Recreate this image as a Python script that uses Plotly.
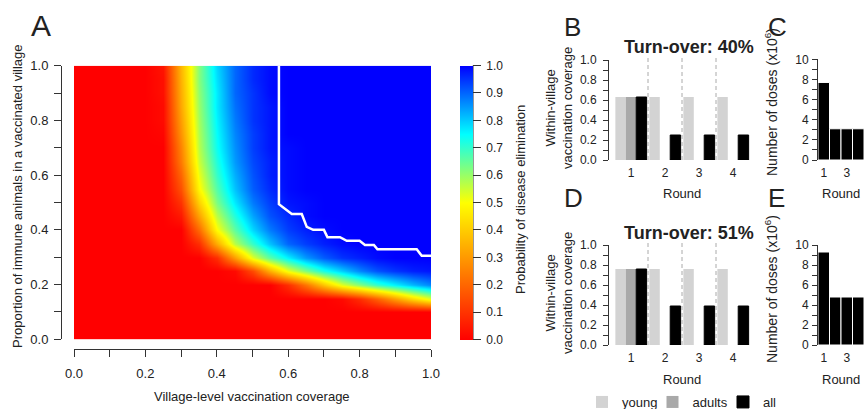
import plotly.graph_objects as go

FONT = "Liberation Sans, Arial, Helvetica, sans-serif"
INK = "#222222"
AX = "#333333"
W, H = 864, 409

# ---------------- Panel A data ----------------
coverage = [0.0, 0.05, 0.1, 0.15, 0.2, 0.25, 0.3, 0.35, 0.4, 0.45, 0.5,
            0.55, 0.6, 0.65, 0.7, 0.75, 0.8, 0.85, 0.9, 0.95, 1.0]
immune = [0.0, 0.05, 0.1, 0.15, 0.2, 0.25, 0.3, 0.35, 0.4, 0.45, 0.5,
          0.55, 0.6, 0.65, 0.7, 0.75, 0.8, 0.85, 0.9, 0.95, 1.0]
# rows = immune (bottom to top), columns = coverage (left to right)
p_elim = [
    [0, 0, 0, 0, 0, 0, 0, 0, 0, 0, 0, 0, 0, 0, 0, 0, 0, 0, 0, 0, 0],
    [0, 0, 0, 0, 0, 0, 0, 0, 0, 0, 0, 0, 0, 0, 0, 0, 0, 0, 0, 0, 0],
    [0, 0, 0, 0, 0, 0, 0, 0, 0, 0, 0, 0, 0, 0, 0, 0, 0, 0, 0, 0, 0],
    [0, 0, 0, 0, 0, 0, 0, 0, 0, 0, 0, 0, 0, 0, 0, 0.02, 0.09, 0.19, 0.31, 0.43, 0.53],
    [0, 0, 0, 0, 0, 0, 0, 0, 0, 0, 0, 0, 0.09, 0.23, 0.39, 0.53, 0.62, 0.70, 0.76, 0.82, 0.87],
    [0, 0, 0, 0, 0, 0, 0, 0, 0, 0.02, 0.15, 0.35, 0.52, 0.63, 0.73, 0.80, 0.87, 0.92, 0.95, 0.97, 0.98],
    [0, 0, 0, 0, 0, 0, 0, 0, 0.09, 0.31, 0.53, 0.66, 0.76, 0.85, 0.91, 0.95, 0.97, 0.99, 1, 1, 1],
    [0, 0, 0, 0, 0, 0, 0, 0.09, 0.34, 0.57, 0.70, 0.81, 0.90, 0.94, 0.97, 0.99, 1, 1, 1, 1, 1],
    [0, 0, 0, 0, 0, 0, 0, 0.21, 0.50, 0.66, 0.79, 0.88, 0.94, 0.97, 0.99, 1, 1, 1, 1, 1, 1],
    [0, 0, 0, 0, 0, 0, 0.05, 0.32, 0.57, 0.72, 0.84, 0.92, 0.96, 0.99, 1, 1, 1, 1, 1, 1, 1],
    [0, 0, 0, 0, 0, 0, 0.10, 0.41, 0.63, 0.77, 0.88, 0.94, 0.98, 0.99, 1, 1, 1, 1, 1, 1, 1],
    [0, 0, 0, 0, 0, 0, 0.16, 0.49, 0.67, 0.81, 0.91, 0.96, 0.99, 1, 1, 1, 1, 1, 1, 1, 1],
    [0, 0, 0, 0, 0, 0, 0.20, 0.52, 0.70, 0.83, 0.92, 0.97, 0.99, 1, 1, 1, 1, 1, 1, 1, 1],
    [0, 0, 0, 0, 0, 0, 0.24, 0.55, 0.72, 0.85, 0.93, 0.97, 0.99, 1, 1, 1, 1, 1, 1, 1, 1],
    [0, 0, 0, 0, 0, 0, 0.26, 0.57, 0.74, 0.86, 0.94, 0.98, 0.99, 1, 1, 1, 1, 1, 1, 1, 1],
    [0, 0, 0, 0, 0, 0.01, 0.29, 0.58, 0.75, 0.87, 0.94, 0.98, 1, 1, 1, 1, 1, 1, 1, 1, 1],
    [0, 0, 0, 0, 0, 0.02, 0.31, 0.59, 0.76, 0.88, 0.95, 0.98, 1, 1, 1, 1, 1, 1, 1, 1, 1],
    [0, 0, 0, 0, 0, 0.02, 0.33, 0.60, 0.77, 0.89, 0.95, 0.98, 1, 1, 1, 1, 1, 1, 1, 1, 1],
    [0, 0, 0, 0, 0, 0.03, 0.34, 0.61, 0.77, 0.90, 0.95, 0.99, 1, 1, 1, 1, 1, 1, 1, 1, 1],
    [0, 0, 0, 0, 0, 0.03, 0.35, 0.62, 0.78, 0.90, 0.96, 0.99, 1, 1, 1, 1, 1, 1, 1, 1, 1],
    [0, 0, 0, 0, 0, 0.04, 0.36, 0.62, 0.79, 0.90, 0.96, 0.99, 1, 1, 1, 1, 1, 1, 1, 1, 1],
]
boundary_cov = [0.574, 0.574, 0.61, 0.638, 0.652, 0.67, 0.70, 0.71, 0.745,
                0.764, 0.80, 0.815, 0.84, 0.85, 0.96, 0.974, 1.0]
boundary_imm = [1.0, 0.494, 0.458, 0.458, 0.411, 0.40, 0.40, 0.373, 0.373,
                0.36, 0.36, 0.345, 0.345, 0.329, 0.329, 0.305, 0.305]
unit_ticks = [0.0, 0.1, 0.2, 0.3, 0.4, 0.5, 0.6, 0.7, 0.8, 0.9, 1.0]
unit_labels = ["0.0", "", "0.2", "", "0.4", "", "0.6", "", "0.8", "", "1.0"]
cbar_labels = ["0.0", "0.1", "0.2", "0.3", "0.4", "0.5", "0.6", "0.7", "0.8", "0.9", "1.0"]

# ---------------- Panels B-E data ----------------
rounds = [1, 2, 3, 4]
round_labels = ["1", "2", "3", "4"]
b_young = [0.63, 0.63, 0.63, 0.63]
b_adults = [0.63, 0.0, 0.0, 0.0]
b_all = [0.63, 0.25, 0.25, 0.25]
d_young = [0.76, 0.76, 0.76, 0.76]
d_adults = [0.76, 0.0, 0.0, 0.0]
d_all = [0.76, 0.39, 0.39, 0.39]
c_doses = [7.7, 3.1, 3.1, 3.1]
e_doses = [9.3, 4.8, 4.8, 4.8]
dose_ticks = [0, 1, 2, 3, 4, 5, 6, 7, 8, 9, 10]
dose_labels = ["0", "", "2", "", "4", "", "6", "", "8", "", "10"]
dose_round_ticks = [1, 3]
dose_round_labels = ["1", "3"]
series_names = ["young", "adults", "all"]
series_colors = ["#D3D3D3", "#A9A9A9", "#000000"]
turnover_B = "Turn-over: 40%"
turnover_D = "Turn-over: 51%"


def px(x):
    return x / W


def py(y):
    return 1 - y / H


fig = go.Figure()

colorscale = [[0.0, "#FF0000"], [0.5, "#FFFF00"], [0.75, "#00FFFF"], [1.0, "#0000FF"]]
fig.add_trace(go.Heatmap(
    x=coverage, y=immune, z=p_elim, zmin=0, zmax=1, zsmooth="best",
    colorscale=colorscale, hoverinfo="skip",
    colorbar=dict(thickness=13, thicknessmode="pixels", len=273.6, lenmode="pixels",
                  x=px(460), xanchor="left", xpad=0, y=py(202.5), yanchor="middle", ypad=0,
                  outlinewidth=0, tickvals=unit_ticks,
                  ticktext=["\u00a0" + t for t in cbar_labels],
                  ticks="outside", ticklen=8, tickcolor=AX, tickwidth=1,
                  tickfont=dict(family=FONT, size=12, color=INK)),
    xaxis="x", yaxis="y"))
fig.add_trace(go.Scatter(x=boundary_cov, y=boundary_imm, mode="lines",
                         line=dict(color="white", width=2.5), hoverinfo="skip",
                         showlegend=False, xaxis="x", yaxis="y"))

# bar panels B and D
for (young, adults, allv, xa, ya, show) in [(b_young, b_adults, b_all, "x2", "y2", True),
                                            (d_young, d_adults, d_all, "x3", "y3", False)]:
    for name, vals, col in zip(series_names, [young, adults, allv], series_colors):
        fig.add_trace(go.Bar(
            x=rounds, y=vals, name=name, legendgroup=name, showlegend=show,
            marker=dict(color=col, line=dict(color="#000000" if name == "all" else col,
                                             width=1 if name == "all" else 0)),
            xaxis=xa, yaxis=ya, hoverinfo="skip"))

# dose panels C and E
for vals, xa, ya in [(c_doses, "x4", "y4"), (e_doses, "x5", "y5")]:
    fig.add_trace(go.Bar(x=rounds, y=vals, width=1.0, showlegend=False,
                         marker=dict(color="#000000", line=dict(color="white", width=1)),
                         xaxis=xa, yaxis=ya, hoverinfo="skip"))

tickfont13 = dict(family=FONT, size=13, color=INK)
tickfont12 = dict(family=FONT, size=12, color=INK)

layout = dict(
    width=W, height=H,
    margin=dict(l=0, r=0, t=0, b=0, autoexpand=False),
    paper_bgcolor="white", plot_bgcolor="white",
    barmode="group", bargap=0.08, bargroupgap=0,
    font=dict(family=FONT, color=INK),
    showlegend=True,
    legend=dict(orientation="h", x=px(582), xanchor="left", y=py(402), yanchor="middle",
                font=dict(family=FONT, size=13, color=INK), entrywidth=25.5,
                entrywidthmode="pixels", itemwidth=30, bgcolor="rgba(0,0,0,0)",
                tracegroupgap=0),
    xaxis=dict(domain=[px(74), px(431)], range=[0, 1], anchor="free", position=py(349),
               showline=True, linecolor=AX, linewidth=1, ticks="outside", ticklen=7,
               tickcolor=AX, tickvals=unit_ticks, ticktext=unit_labels, tickfont=tickfont13,
               ticklabelstandoff=5, showgrid=False, zeroline=False),
    yaxis=dict(domain=[py(339.3), py(65.7)], range=[0, 1], anchor="free", position=px(61),
               showline=True, linecolor=AX, linewidth=1, ticks="outside", ticklen=7,
               tickcolor=AX, tickvals=unit_ticks, ticktext=unit_labels, tickfont=tickfont13,
               ticklabelstandoff=3, showgrid=False, zeroline=False),
)

bar_y_domains = {"2": [py(160), py(60)], "3": [py(345), py(245)]}
dose_y_domains = {"4": [py(160), py(59.3)], "5": [py(345), py(245)]}
for k, dom in bar_y_domains.items():
    layout["xaxis" + k] = dict(domain=[px(614), px(750)], range=[0.5, 4.5], anchor="y" + k,
                               showline=False, ticks="outside", ticklen=2,
                               tickcolor="rgba(0,0,0,0)", tickvals=rounds,
                               ticktext=round_labels, tickfont=tickfont12,
                               showgrid=False, zeroline=False)
    layout["yaxis" + k] = dict(domain=dom, range=[0, 1], anchor="free", position=px(608),
                               showline=True, linecolor=AX, linewidth=1, ticks="outside",
                               ticklen=5, tickcolor=AX, tickvals=unit_ticks,
                               ticktext=unit_labels, tickfont=tickfont12,
                               ticklabelstandoff=4, showgrid=False, zeroline=False)
for k, dom in dose_y_domains.items():
    layout["xaxis" + k] = dict(domain=[px(818), 1.0], range=[0.5, 4.5], anchor="y" + k,
                               showline=False, ticks="outside", ticklen=2,
                               tickcolor="rgba(0,0,0,0)", tickvals=dose_round_ticks,
                               ticktext=dose_round_labels, tickfont=tickfont12,
                               showgrid=False, zeroline=False)
    layout["yaxis" + k] = dict(domain=dom, range=[0, 10], anchor="free", position=px(817),
                               showline=True, linecolor=AX, linewidth=1, ticks="outside",
                               ticklen=5, tickcolor=AX, tickvals=dose_ticks,
                               ticktext=dose_labels, tickfont=tickfont12,
                               ticklabelstandoff=1, showgrid=False, zeroline=False)

shapes = []
for k in ["2", "3"]:
    for r in rounds[:-1]:
        shapes.append(dict(type="line", xref="x" + k, yref="y" + k + " domain",
                           x0=r + 0.5, x1=r + 0.5, y0=0, y1=1.03,
                           line=dict(color="#AAAAAA", width=1, dash="4px,3px")))
# colorbar axis line
shapes.append(dict(type="line", xref="paper", yref="paper", x0=px(473), x1=px(473),
                   y0=py(339.3), y1=py(65.7), line=dict(color=AX, width=1)))
layout["shapes"] = shapes


def ann(text, x, y, size, angle=0, bold=False, xanchor="center"):
    return dict(text=f"<b>{text}</b>" if bold else text, x=px(x), y=py(y),
                xref="paper", yref="paper", showarrow=False, textangle=angle,
                xanchor=xanchor, yanchor="middle",
                font=dict(family=FONT, size=size, color=INK))


layout["annotations"] = [
    ann("A", 29, 26, 30, xanchor="left"),
    ann("B", 562, 27, 26, xanchor="left"),
    ann("C", 766, 27.5, 26, xanchor="left"),
    ann("D", 562, 198, 26, xanchor="left"),
    ann("E", 766, 198, 26, xanchor="left"),
    ann("Village-level vaccination coverage", 252.5, 396, 13),
    ann("Proportion of immune animals in a vaccinated village", 17, 196, 13, angle=-90),
    ann("Probability of disease elimination", 520, 200, 13, angle=-90),
    ann(turnover_B, 689, 47.5, 18, bold=True),
    ann(turnover_D, 689, 232.5, 18, bold=True),
    ann("Within-village<br>vaccination coverage", 559, 108, 13, angle=-90),
    ann("Within-village<br>vaccination coverage", 559, 293, 13, angle=-90),
    ann("Round", 682, 193, 13),
    ann("Round", 682, 379, 13),
    ann("Number of doses (x10<sup>6</sup>)", 771, 102, 14, angle=-90),
    ann("Number of doses (x10<sup>6</sup>)", 771, 289, 14, angle=-90),
    ann("Round", 841, 193, 13),
    ann("Round", 841, 379, 13),
]

fig.update_layout(**layout)
fig.write_html("out.html", config={"displayModeBar": False},
               post_script="document.body.style.margin='0px';")
